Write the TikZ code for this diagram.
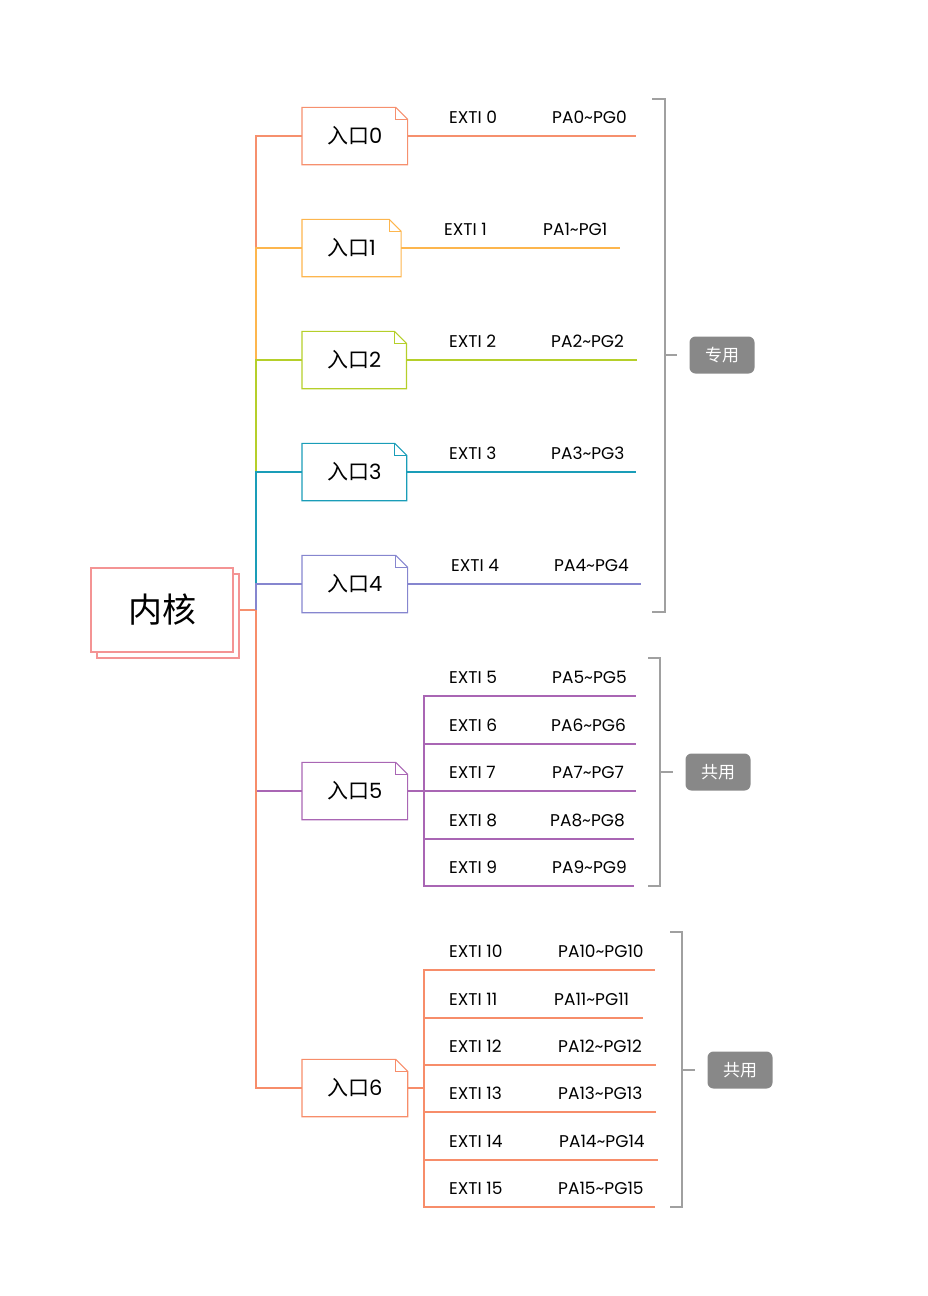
\documentclass[tikz,border=0pt]{standalone}
\usepackage{fontspec}
\setmainfont{Poppins}
\newfontfamily\cjk{Noto Sans CJK SC}
\usepackage{xcolor}
\usetikzlibrary{positioning}
\usetikzlibrary{shadows}
\definecolor{coreline}{HTML}{F49494}
\definecolor{cA}{HTML}{F6906E}
\definecolor{cB}{HTML}{FDB64E}
\definecolor{cC}{HTML}{B5CF2A}
\definecolor{cD}{HTML}{1A9DB8}
\definecolor{cE}{HTML}{8686CF}
\definecolor{cF}{HTML}{A966B4}
\definecolor{cG}{HTML}{F78D6A}
\definecolor{bracketgray}{HTML}{A0A0A0}
\definecolor{taggray}{HTML}{888888}

\begin{document}
\begin{tikzpicture}[x=1pt, y=-1pt,
		core style/.style={draw=coreline, fill=white, line width=1.1pt, minimum width=142pt, minimum height=84pt,
			font=\cjk\fontsize{34}{40}\selectfont,
			copy shadow={shadow xshift=6pt, shadow yshift=-6pt, draw=coreline, fill=white, line width=1.1pt}},
		port style/.style={anchor=west, minimum height=57pt, inner xsep=25pt, font=\fontsize{21}{25}\selectfont},
		label style/.style={anchor=base west, inner sep=0pt, font=\fontsize{17}{20}\selectfont},
		tag style/.style={fill=taggray, rounded corners=6pt, text=white, minimum width=65pt, minimum height=37pt,
			font=\cjk\fontsize{17}{20}\selectfont},
		line/.style={line width=1.1pt},
		bracket/.style={draw=bracketgray, line width=1.1pt}
		]
		\useasboundingbox (0,0) rectangle (928,1296);
		\node[core style] (core) at (162,610) {内核};
		\coordinate (jc) at (256,610);

		\node[port style] (p0) at (302,136) {{\cjk 入口}0};
		\node[port style] (p1) at (302,248) {{\cjk 入口}1};
		\node[port style] (p2) at (302,360) {{\cjk 入口}2};
		\node[port style] (p3) at (302,472) {{\cjk 入口}3};
		\node[port style] (p4) at (302,584) {{\cjk 入口}4};
		\node[port style] (p5) at (302,791) {{\cjk 入口}5};
		\node[port style] (p6) at (302,1088) {{\cjk 入口}6};

		\foreach \n/\c in {p0/cA, p1/cB, p2/cC, p3/cD, p4/cE, p5/cF, p6/cG} {
			\draw[line, draw=\c] (\n.south west) -- (\n.north west) -- ([xshift=-12pt]\n.north east)
				-- ([yshift=-12pt]\n.north east) -- (\n.south east) -- cycle;
			\draw[line, draw=\c] ([xshift=-12pt]\n.north east) |- ([yshift=-12pt]\n.north east);
		}

		\draw[line, draw=cA] ([xshift=6pt]core.east) -- (jc);
		\draw[line, draw=cA] (jc) |- (p0.west);
		\draw[line, draw=cB] (jc) |- (p1.west);
		\draw[line, draw=cC] (jc) |- (p2.west);
		\draw[line, draw=cD] (jc) |- (p3.west);
		\draw[line, draw=cE] (jc) |- (p4.west);
		\draw[line, draw=cF] (jc) |- (p5.west);
		\draw[line, draw=cG] (jc) |- (p6.west);

		% dedicated lines
		\coordinate (t0) at (636,136);
		\coordinate (t1) at (620,248);
		\coordinate (t2) at (637,360);
		\coordinate (t3) at (636,472);
		\coordinate (t4) at (641,584);
		\draw[line, draw=cA] (p0.east) -- (t0);
		\draw[line, draw=cB] (p1.east) -- (t1);
		\draw[line, draw=cC] (p2.east) -- (t2);
		\draw[line, draw=cD] (p3.east) -- (t3);
		\draw[line, draw=cE] (p4.east) -- (t4);
		\node[label style] (e0) at (449,123) {EXTI 0};
		\node[label style] (g0) at (552,123) {PA0\textasciitilde PG0};
		\node[label style] (e1) at (444,235) {EXTI 1};
		\node[label style] (g1) at (543,235) {PA1\textasciitilde PG1};
		\node[label style] (e2) at (449,347) {EXTI 2};
		\node[label style] (g2) at (551,347) {PA2\textasciitilde PG2};
		\node[label style] (e3) at (449,459) {EXTI 3};
		\node[label style] (g3) at (551,459) {PA3\textasciitilde PG3};
		\node[label style] (e4) at (451,571) {EXTI 4};
		\node[label style] (g4) at (554,571) {PA4\textasciitilde PG4};

		% shared lines, port 5
		\coordinate (j5) at (424,791);
		\coordinate (t5) at (636,696);
		\coordinate (t6) at (636,744);
		\coordinate (t7) at (636,791);
		\coordinate (t8) at (634,839);
		\coordinate (t9) at (634,886);
		\draw[line, draw=cF] (p5.east) -- (j5);
		\draw[line, draw=cF] (j5) |- (t5);
		\draw[line, draw=cF] (j5) |- (t6);
		\draw[line, draw=cF] (j5) |- (t7);
		\draw[line, draw=cF] (j5) |- (t8);
		\draw[line, draw=cF] (j5) |- (t9);
		\node[label style] (e5) at (449,683) {EXTI 5};
		\node[label style] (g5) at (552,683) {PA5\textasciitilde PG5};
		\node[label style] (e6) at (449,731) {EXTI 6};
		\node[label style] (g6) at (551,731) {PA6\textasciitilde PG6};
		\node[label style] (e7) at (449,778) {EXTI 7};
		\node[label style] (g7) at (552,778) {PA7\textasciitilde PG7};
		\node[label style] (e8) at (449,826) {EXTI 8};
		\node[label style] (g8) at (550,826) {PA8\textasciitilde PG8};
		\node[label style] (e9) at (449,873) {EXTI 9};
		\node[label style] (g9) at (552,873) {PA9\textasciitilde PG9};

		% shared lines, port 6
		\coordinate (j6) at (424,1088);
		\coordinate (t10) at (655,970);
		\coordinate (t11) at (643,1018);
		\coordinate (t12) at (656,1065);
		\coordinate (t13) at (656,1112);
		\coordinate (t14) at (658,1160);
		\coordinate (t15) at (655,1207);
		\draw[line, draw=cG] (p6.east) -- (j6);
		\draw[line, draw=cG] (j6) |- (t10);
		\draw[line, draw=cG] (j6) |- (t11);
		\draw[line, draw=cG] (j6) |- (t12);
		\draw[line, draw=cG] (j6) |- (t13);
		\draw[line, draw=cG] (j6) |- (t14);
		\draw[line, draw=cG] (j6) |- (t15);
		\node[label style] (e10) at (449,957) {EXTI 10};
		\node[label style] (g10) at (558,957) {PA10\textasciitilde PG10};
		\node[label style] (e11) at (449,1005) {EXTI 11};
		\node[label style] (g11) at (554,1005) {PA11\textasciitilde PG11};
		\node[label style] (e12) at (449,1052) {EXTI 12};
		\node[label style] (g12) at (558,1052) {PA12\textasciitilde PG12};
		\node[label style] (e13) at (449,1099) {EXTI 13};
		\node[label style] (g13) at (558,1099) {PA13\textasciitilde PG13};
		\node[label style] (e14) at (449,1147) {EXTI 14};
		\node[label style] (g14) at (559,1147) {PA14\textasciitilde PG14};
		\node[label style] (e15) at (449,1194) {EXTI 15};
		\node[label style] (g15) at (558,1194) {PA15\textasciitilde PG15};

		% brackets and tags
		\draw[bracket] (652,99) -- (665,99) -- (665,612) -- (652,612);
		\coordinate (k0) at (665,355);
		\node[tag style] (tag0) at (722,355) {专用};
		\draw[bracket] (k0) -- ([xshift=-12pt]tag0.west);

		\draw[bracket] (648,658) -- (660,658) -- (660,886) -- (648,886);
		\coordinate (k1) at (660,772);
		\node[tag style] (tag1) at (718,772) {共用};
		\draw[bracket] (k1) -- ([xshift=-12pt]tag1.west);

		\draw[bracket] (670,932) -- (682,932) -- (682,1207) -- (670,1207);
		\coordinate (k2) at (682,1070);
		\node[tag style] (tag2) at (740,1070) {共用};
		\draw[bracket] (k2) -- ([xshift=-12pt]tag2.west);
	\end{tikzpicture}
\end{document}
